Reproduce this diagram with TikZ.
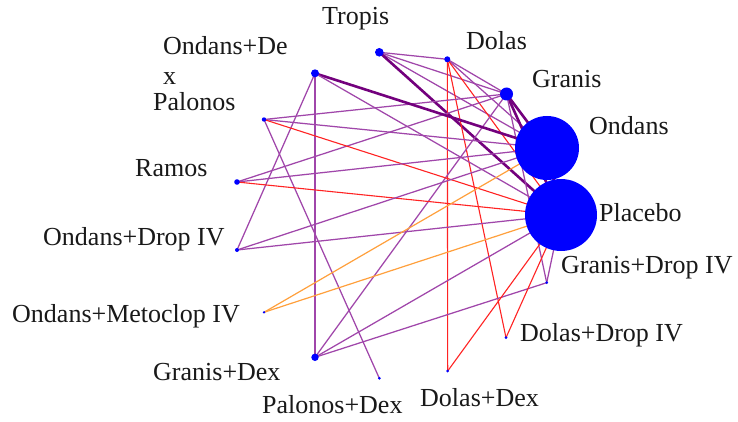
\documentclass[tikz,border=0pt]{standalone}
\usepackage{fontspec}
\setmainfont{Liberation Serif}
\usetikzlibrary{backgrounds}
\begin{document}
\begin{tikzpicture}[x=1pt,y=-1pt,
  dot/.style={circle,fill=blue,draw=none,inner sep=0pt},
  lab/.style={font=\fontsize{26}{28}\selectfont,text=black!90,inner sep=0pt,anchor=base west},
  pe/.style={draw=pthin,line width=1.25pt},
  pk/.style={draw=pthick,line width=2.6pt},
  re/.style={draw=redl,line width=1.1pt},
  oe/.style={draw=orangel,line width=1.2pt}]
\definecolor{pthin}{RGB}{160,70,170}
\definecolor{pthick}{RGB}{115,0,125}
\definecolor{redl}{RGB}{255,35,35}
\definecolor{orangel}{RGB}{255,160,60}
\useasboundingbox (0,0) rectangle (738,422);
% nodes
\node[dot,minimum size=72pt] (Placebo) at (561,215) {};
\node[dot,minimum size=64pt] (Ondans) at (547,148) {};
\node[dot,minimum size=13pt] (Granis) at (506.5,94) {};
\node[dot,minimum size=6pt] (Dolas) at (447.3,59.3) {};
\node[dot,minimum size=8.6pt] (Tropis) at (379.3,52.3) {};
\node[dot,minimum size=8pt] (OndansDex) at (315,73.3) {};
\node[dot,minimum size=4.4pt] (Palonos) at (264,119.5) {};
\node[dot,minimum size=5.6pt] (Ramos) at (237,182) {};
\node[dot,minimum size=4pt] (OndansDrop) at (237,250) {};
\node[dot,minimum size=2.6pt] (Metoclop) at (264,312.3) {};
\node[dot,minimum size=7.4pt] (GranisDex) at (315,357.3) {};
\node[dot,minimum size=3pt] (PalonosDex) at (379.3,378.3) {};
\node[dot,minimum size=3pt] (DolasDex) at (447.7,371) {};
\node[dot,minimum size=3pt] (DolasDrop) at (506,337.7) {};
\node[dot,minimum size=3pt] (GranisDrop) at (546.7,282.7) {};
% edges behind the nodes
\begin{scope}[on background layer]
\fill[white] (0,0) rectangle (738,422);
\draw[pe] (Tropis.center) -- (Dolas.center);
\draw[pe] (Tropis.center) -- (Granis.center);
\draw[pe] (Tropis.center) -- (Ondans.center);
\draw[pk] (Tropis.center) -- (Placebo.center);
\draw[pe] (Dolas.center) -- (Granis.center);
\draw[pe] (Dolas.center) -- (Ondans.center);
\draw[re] (Dolas.center) -- (Placebo.center);
\draw[re] (Dolas.center) -- (DolasDex.center);
\draw[re] (Dolas.center) -- (DolasDrop.center);
\draw[pk] (Granis.center) -- (Ondans.center);
\draw[pk] (Granis.center) -- (Placebo.center);
\draw[pe] (Granis.center) -- (Palonos.center);
\draw[pe] (Granis.center) -- (Ramos.center);
\draw[pe] (Granis.center) -- (GranisDex.center);
\draw[pe] (Granis.center) -- (GranisDrop.center);
\draw[pk] (OndansDex.center) -- (Ondans.center);
\draw[pe] (OndansDex.center) -- (Placebo.center);
\draw[pe] (OndansDex.center) -- (GranisDex.center);
\draw[pe] (OndansDex.center) -- (OndansDrop.center);
\draw[pe] (Palonos.center) -- (Ondans.center);
\draw[re] (Palonos.center) -- (Placebo.center);
\draw[pe] (Palonos.center) -- (PalonosDex.center);
\draw[pe] (Ramos.center) -- (Ondans.center);
\draw[re] (Ramos.center) -- (Placebo.center);
\draw[pe] (OndansDrop.center) -- (Ondans.center);
\draw[pe] (OndansDrop.center) -- (Placebo.center);
\draw[oe] (Metoclop.center) -- (Ondans.center);
\draw[oe] (Metoclop.center) -- (Placebo.center);
\draw[pe] (GranisDex.center) -- (Placebo.center);
\draw[pe] (GranisDex.center) -- (GranisDrop.center);
\draw[re] (DolasDex.center) -- (Placebo.center);
\draw[re] (DolasDrop.center) -- (Placebo.center);
\draw[pe] (GranisDrop.center) -- (Placebo.center);
\draw[pk] (Ondans.center) -- (Placebo.center);
\end{scope}
% labels
\node[lab] (lTropis) at (322,25) {Tropis};
\node[lab] (lDolas) at (466,50) {Dolas};
\node[lab] (lGranis) at (532,87.3) {Granis};
\node[lab] (lOndans) at (589,135) {Ondans};
\node[lab] (lPlacebo) at (599,221.7) {Placebo};
\node[lab] (lGranisDrop) at (561,273.3) {Granis+Drop IV};
\node[lab] (lDolasDrop) at (520,341.7) {Dolas+Drop IV};
\node[lab] (lDolasDex) at (420,406.7) {Dolas+Dex};
\node[lab] (lPalonosDex) at (262,413) {Palonos+Dex};
\node[lab] (lGranisDex) at (153,380) {Granis+Dex};
\node[lab] (lMetoclop) at (12,322.7) {Ondans+Metoclop IV};
\node[lab] (lOndansDrop) at (43,245) {Ondans+Drop IV};
\node[lab] (lRamos) at (135,176.7) {Ramos};
\node[lab] (lPalonos) at (153,111) {Palonos};
\node[lab] (lOndansDex) at (163,54.3) {Ondans+De};
\node[lab] (lOndansDexB) at (163,85) {x};
\end{tikzpicture}
\end{document}
